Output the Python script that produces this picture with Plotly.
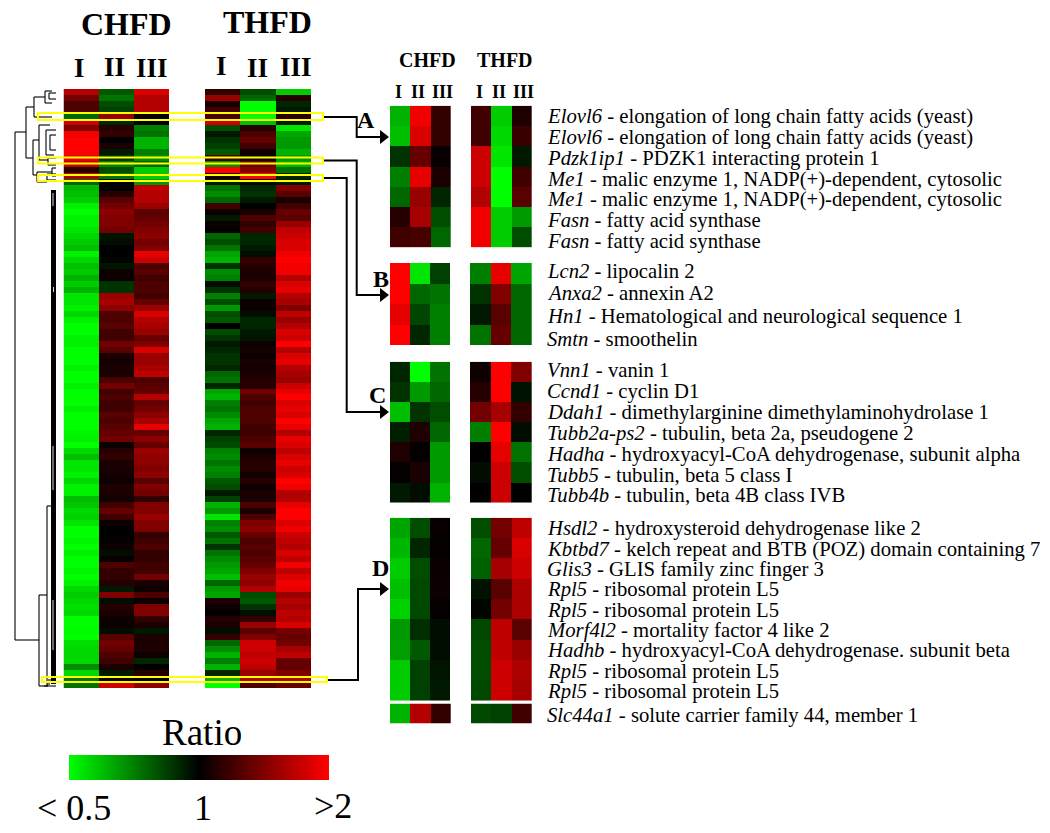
import plotly.graph_objects as go

FONT = "Liberation Serif"
W, H = 1050, 833

# Main clustered heatmap, log-ratio colour values (-1 green .. 1 red), 100 rows
chfd_1 = [.7,.45,.3,.3,-.4,.8,.5,.95,1,1,1,.9,.75,.15,.7,-.4,-.72,-.75,-.8,-.95,-1,-.95,-.95,-.9,-.85,-.8,-.75,
 -.95,-.85,-.75,-.8,-.7,-.8,-.7,-.9,-.9,-.95,-.85,-.95,-1,-1,-.95,-.95,-1,-1,-1,-.95,-1,-1,-.95,-1,-1,-1,-.95,-1,-1,-1,-.97,-.95,-1,
 -.85,-.75,-.9,-.9,-.95,-.85,-.95,-.95,-.75,-.78,-.85,-.82,-.9,-1,-1,-.97,-1,-.95,-1,-1,-.97,-1,-.95,-.85,-.8,-.85,-.88,-.85,-1,-1,-.98,-1,-.88,-.85,-.85,-.85,-.55,-.85,-.45,-.45]
chfd_2 = [-.35,-.45,-.3,-.25,.6,-.15,.15,.2,0,.1,-.1,-.2,-.5,-.3,-.45,0,0,.15,.35,.45,.55,.5,.5,.45,-.08,-.05,0,
 0,-.02,-.08,.05,.05,-.2,-.2,.6,.65,.55,.3,.3,.35,.25,.25,.45,.35,.1,.08,.1,.1,.3,.45,.25,.3,.25,.25,.35,.3,.35,.4,.45,.05,.15,.2,.1,.1,.08,.05,
 .12,.1,.08,.25,.4,.25,.05,0,0,.02,.05,-.05,.03,.3,.2,.2,.15,-.1,.5,-.05,.15,.1,.05,.05,-.05,.35,.45,.4,.3,.25,.1,-.1,.05,.8]
chfd_3 = [.85,.7,.7,.7,.02,0,-.5,-.45,-.7,-.7,-.5,-.55,-.4,-.8,-.8,-.6,.75,.7,.7,.6,.35,.4,.45,.5,.55,.45,.5,
 .9,.8,.3,.35,.25,.3,.3,.25,.4,.6,.85,.7,.65,.6,.4,.5,.85,.6,.6,.65,.75,.3,.35,.4,.7,.4,.45,.55,.65,.9,.4,.55,.4,.6,.55,.55,.5,.55,.35,
 .5,.45,.2,.5,.5,.6,.5,.5,.2,.25,.3,.2,.2,.25,.25,.45,.1,.05,.3,.05,.5,.5,.2,.1,-.1,.1,.1,.12,.05,-.15,0,.15,.03,.55]
thfd_1 = [.2,.6,.1,.25,.3,.8,-.3,-.1,-.2,-.25,-.35,.25,-.55,1,.1,-.1,-.45,-.55,-.4,.25,.05,-.1,.05,0,-.4,-.3,-.45,
 -.65,-.7,-.2,-.55,-.5,-.05,-.2,-.5,-.3,-.6,-.3,-.35,0,-.3,-.2,-.1,-.15,-.2,-.2,-.15,-.4,-.45,-.15,-.65,-.7,-.5,-.45,-.55,-.65,-.7,-.15,-.25,-.3,-.5,-.55,-.45,-.55,-.5,-.35,
 -.3,-.1,-.25,-.7,-.6,-.9,-.5,-.55,-.35,-.45,-.2,-.45,-.55,-.6,-.65,-.75,-.4,-.6,-.65,.12,.05,0,.15,.1,-.05,.2,-.4,-.55,-.7,-.5,-.7,-.15,-.7,-1]
thfd_2 = [-.3,-.4,-1,-1,-1,-.75,.15,.3,.4,.25,.05,.05,.45,.5,1,-.05,-.15,-.2,-.1,0,.1,.3,.2,.25,-.15,-.15,-.1,
 -.05,.2,.15,.1,.1,.2,.15,-.1,.05,.05,-.05,-.15,-.15,-.1,-.08,.05,.08,.05,.1,.08,.1,.15,.15,.45,.3,.25,.3,.3,.3,.25,.25,.3,.35,.05,.1,.15,.15,.08,.15,
 .05,.1,.1,.3,.1,.3,.5,.55,.4,.3,.35,.3,.35,.4,.5,.6,.55,.7,-.3,-.35,-.2,-.05,.2,.6,.35,.5,.8,.8,.75,.8,.75,.6,.7,.3]
thfd_3 = [-.8,.15,-.15,-.1,.15,-.1,-.9,-.65,-.6,-.6,-.7,-.6,-.7,-.45,-.15,-.1,.5,.35,.1,.25,.4,.35,.6,.75,.8,.85,.85,
 .95,1,.95,.95,.7,.85,.9,.7,.65,.5,.75,.6,.7,.85,.8,1,.7,.85,.9,.7,.65,.6,.8,.9,1,.85,.9,.85,1,.9,.7,.9,.85,.75,.85,.9,.8,.85,1,
 .95,.7,.7,.9,1,1,.85,.95,.8,.75,.7,.85,.75,.95,.75,.85,.95,.9,.6,.7,.65,.75,.7,.85,.45,.4,.45,.65,.75,.4,.4,.5,.7,.4]

# Detail panels: rows of [I, II, III]
a_chfd = [[-.7,.95,.2],[-.75,.85,.2],[-.2,.4,.03],[-.5,.9,.1],[-.4,.6,-.15],[.15,.65,-.3],[.25,.27,-.4]]
a_thfd = [[.25,-.8,.12],[.25,-.85,.22],[.8,-.9,-.1],[.8,-1,.25],[.7,-1,.35],[.95,-.8,-.6],[.95,-.8,-.3]]
b_chfd = [[1,-.9,-.25],[1,-.4,-.45],[.9,-.27,-.5],[1,-.15,-.5]]
b_thfd = [[-.5,.9,-.65],[-.2,.5,-.4],[-.1,.35,-.4],[-.45,.4,-.4]]
c_chfd = [[-.15,-1,-.45],[-.2,-.6,-.4],[-.75,-.2,-.3],[-.12,.12,-.4],[.12,.02,-.6],[.02,.1,-.6],[-.1,-.05,-.7]]
c_thfd = [[.06,1,.5],[.15,1,-.07],[.45,.65,.2],[-.5,1,-.05],[0,.9,-.45],[-.05,.8,-.3],[0,.8,0]]
d_chfd = [[-.65,-.3,.03],[-.72,-.15,.02],[-.8,-.3,.04],[-.75,-.28,.05],[-.82,-.28,.02],[-.6,-.18,-.05],[-.62,-.35,-.05],[-.8,-.25,-.08],[-.8,-.25,-.1]]
d_thfd = [[-.3,.45,.75],[-.4,.4,.85],[-.38,.65,.8],[-.07,.35,.68],[-.02,.45,.68],[-.28,.75,.35],[-.3,.75,.6],[-.3,.8,.68],[-.28,.8,.65]]
e_chfd = [[-.7,.7,.2]]
e_thfd = [[-.28,-.25,.25]]

samples = ["I", "II", "III"]
gene_symbols = ["Elovl6","Elovl6","Pdzk1ip1","Me1","Me1","Fasn","Fasn","Lcn2","Anxa2","Hn1","Smtn","Vnn1","Ccnd1","Ddah1",
 "Tubb2a-ps2","Hadha","Tubb5","Tubb4b","Hsdl2","Kbtbd7","Glis3","Rpl5","Rpl5","Morf4l2","Hadhb","Rpl5","Rpl5","Slc44a1"]
gene_names = ["elongation of long chain fatty acids (yeast)","elongation of long chain fatty acids (yeast)","PDZK1 interacting protein 1",
 "malic enzyme 1, NADP(+)-dependent, cytosolic","malic enzyme 1, NADP(+)-dependent, cytosolic","fatty acid synthase","fatty acid synthase",
 "lipocalin 2","annexin A2","Hematological and neurological sequence 1","smoothelin","vanin 1","cyclin D1",
 "dimethylarginine dimethylaminohydrolase 1","tubulin, beta 2a, pseudogene 2","hydroxyacyl-CoA dehydrogenase, subunit alpha",
 "tubulin, beta 5 class I","tubulin, beta 4B class IVB","hydroxysteroid dehydrogenase like 2","kelch repeat and BTB (POZ) domain containing 7",
 "GLIS family zinc finger 3","ribosomal protein L5","ribosomal protein L5","mortality factor 4 like 2","hydroxyacyl-CoA dehydrogenase. subunit beta",
 "ribosomal protein L5","ribosomal protein L5","solute carrier family 44, member 1"]
gene_y = [116,137,158,179,199,220,241,271,293,316,339,370,391,412,433,454,475,495,528,549,569,589,610,630,650,671,691,715]

# Dendrogram and connector polylines, drawn on a page-sized overlay axis
dendro_x = [15,15,None,15,26,None,15,39,None,26,26,None,26,34,None,34,34,None,34,45,None,34,52,None,45,45,None,45,52,None,45,52,None,49,49,None,49,56,None,49,56,None,
 26,33,None,33,33,None,33,39,None,39,39,None,39,50,None,39,48,None,46,46,None,46,56,None,46,54,None,50,50,None,50,56,None,50,56,None,48,48,None,48,56,None,48,56,None,
 33,37,None,37,37,None,37,52,None,37,47,None,47,47,None,47,56,None,47,56,None,52,52,None,52,56,None,52,56,None,
 39,39,None,39,47,None,39,48,None,47,47,None,47,51,None,47,50,None,48,56,None,44,56]
dendro_y = [132,640,None,132,132,None,640,640,None,107,158,None,107,107,None,97,117,None,97,97,None,117,117,None,91,103,None,91,91,None,103,103,None,93,99,None,93,93,None,99,99,None,
 158,158,None,140,175,None,140,140,None,125,160,None,125,125,None,160,160,None,130,155,None,130,130,None,155,155,None,135,150,None,135,135,None,150,150,None,158,165,None,158,158,None,165,165,None,
 175,175,None,172,182,None,172,172,None,182,182,None,174,180,None,174,174,None,180,180,None,168,176,None,168,168,None,176,176,None,
 595,686,None,595,595,None,686,686,None,506,686,None,506,506,None,684,684,None,680,680,None,686,686]
band_x = [53.5,53.5]
band_y = [190,684]
gap_x = [53,53,None,53.5,53.5,None,53,53,None,53,53]
gap_y = [193,206,None,287,292,None,446,490,None,600,650]
link_x = [323,356.7,356.7,382,None,323,356.7,356.7,382,None,323,346.7,346.7,382,None,327,358,358,382]
link_y = [117,117,137,137,None,160.5,160.5,295,295,None,178,178,412,412,None,680,680,589,589]
head_x = [383,383,383,383]
head_y = [137,295,412,589]
box_x0 = [38,38,38,42]
box_x1 = [323,323,323,327]
box_y0 = [113,157.5,175,677]
box_y1 = [120,163.5,181,682]

fig = go.Figure()
layout = {}
n = 0

def add_panel(z, x0, x1, y0, y1):
    global n
    n += 1
    sfx = "" if n == 1 else str(n)
    fig.add_trace(go.Heatmap(z=z, x=samples, coloraxis="coloraxis", xaxis="x" + sfx, yaxis="y" + sfx,
                             xgap=0, ygap=0, hoverinfo="skip"))
    layout["xaxis" + sfx] = dict(domain=[x0 / W, x1 / W], visible=False, type="category", fixedrange=True, anchor="y" + sfx)
    layout["yaxis" + sfx] = dict(domain=[1 - y1 / H, 1 - y0 / H], visible=False, autorange="reversed", fixedrange=True, anchor="x" + sfx)

main_chfd = [list(r) for r in zip(chfd_1, chfd_2, chfd_3)]
main_thfd = [list(r) for r in zip(thfd_1, thfd_2, thfd_3)]
add_panel(main_chfd, 63.5, 169, 89, 688)
add_panel(main_thfd, 205, 311, 89, 688)
add_panel(a_chfd, 390, 450.7, 105.7, 247.3)
add_panel(a_thfd, 471, 531.7, 105.7, 247.3)
add_panel(b_chfd, 390, 450, 263, 345)
add_panel(b_thfd, 470, 531.7, 263, 345)
add_panel(c_chfd, 390, 450, 361.7, 502.7)
add_panel(c_thfd, 470, 531.7, 361.7, 502.7)
add_panel(d_chfd, 390, 450, 517.7, 700.7)
add_panel(d_thfd, 471, 531.7, 517.7, 700.7)
add_panel(e_chfd, 390, 450.7, 703.5, 723.5)
add_panel(e_thfd, 471, 531.7, 703.5, 723.5)

# overlay
n += 1
ox, oy = "x%d" % n, "y%d" % n
layout["xaxis%d" % n] = dict(domain=[0, 1], range=[0, W], visible=False, fixedrange=True, anchor=oy)
layout["yaxis%d" % n] = dict(domain=[0, 1], range=[H, 0], visible=False, fixedrange=True, anchor=ox)
def line(x, y, color, width):
    fig.add_trace(go.Scatter(x=x, y=y, mode="lines", line=dict(color=color, width=width), xaxis=ox, yaxis=oy,
                             hoverinfo="skip", showlegend=False, connectgaps=False))
line(dendro_x, dendro_y, "#000000", 1.1)
line(band_x, band_y, "#000000", 5)
line(gap_x, gap_y, "#d8d8d8", 1)
line(link_x, link_y, "#000000", 2)
fig.add_trace(go.Scatter(x=head_x, y=head_y, mode="markers", xaxis=ox, yaxis=oy, hoverinfo="skip", showlegend=False,
                         marker=dict(symbol="triangle-right", size=12, color="#000000")))

shapes = [dict(type="rect", xref=ox, yref=oy, x0=a, x1=b, y0=c, y1=d, line=dict(color="#ffff00", width=2), fillcolor="rgba(0,0,0,0)")
          for a, b, c, d in zip(box_x0, box_x1, box_y0, box_y1)]

anns = []
def txt(s, x, y, size, bold=False, anchor="center"):
    anns.append(dict(text="<b>%s</b>" % s if bold else s, x=x, y=y, xref=ox, yref=oy, xanchor=anchor, yanchor="middle",
                     showarrow=False, font=dict(family=FONT, size=size, color="#000000")))
txt("CHFD", 126, 24, 32, True)
txt("THFD", 267, 22, 32, True)
for s, x, y in zip(samples * 2, [79, 114, 152, 221, 257, 296], [68, 67, 68, 66, 68, 67]):
    txt(s, x, y, 27, True)
txt("CHFD", 427, 60, 20, True)
txt("THFD", 505, 60, 20, True)
for s, x in zip(samples * 2, [398, 418, 442, 479, 499, 523]):
    txt(s, x, 92, 18, True)
for s, x, y in zip("ABCD", [366, 381, 377, 380], [120, 279, 395, 568]):
    txt(s, x, y, 24, True)
for sym, name, y in zip(gene_symbols, gene_names, gene_y):
    txt("<i>%s</i> - %s" % (sym, name), 544.5, y, 20.7, anchor="left")
txt("Ratio", 202, 732, 37)
for s, x, y in zip(["&lt; 0.5", "1", "&gt;2"], [74, 203, 333], [808, 808, 806]):
    txt(s, x, y, 36)

layout.update(
    width=W, height=H, margin=dict(l=0, r=0, t=0, b=0), paper_bgcolor="white", plot_bgcolor="rgba(0,0,0,0)",
    showlegend=False, shapes=shapes, annotations=anns,
    coloraxis=dict(cmin=-1, cmax=1, colorscale=[[0, "#00ff00"], [.5, "#000000"], [1, "#ff0000"]],
                   colorbar=dict(orientation="h", lenmode="pixels", len=259.5, thicknessmode="pixels", thickness=25,
                                 x=198.7 / W, xanchor="center", y=1 - 755 / H, yanchor="top", xpad=0, ypad=0,
                                 outlinewidth=0, showticklabels=False, ticks="")),
)
fig.update_layout(**layout)
fig.write_html("out.html", post_script="document.body.style.margin='0';", config={"displayModeBar": False})
